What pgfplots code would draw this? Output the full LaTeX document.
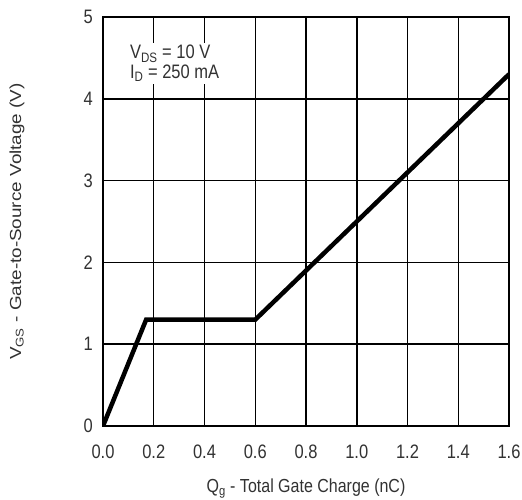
\documentclass[border=0pt]{standalone}
\usepackage{fontspec}
\setmainfont{Liberation Sans}
\usepackage{pgfplots}
\pgfplotsset{compat=1.18}
\definecolor{txt}{RGB}{50,50,50}
\newcommand{\st}[1]{\scalebox{1}[1.18]{#1}}
\begin{document}
\fontsize{16.5}{19}\selectfont
\begin{tikzpicture}
\useasboundingbox (-103pt,-73pt) rectangle (419pt,426pt);
\begin{axis}[
  at={(0pt,0pt)}, anchor=south west,
  scale only axis, width=406pt, height=409pt,
  xmin=0, xmax=1.6, ymin=0, ymax=5,
  xtick={0,0.2,0.4,0.6,0.8,1.0,1.2,1.4,1.6},
  xticklabels={\st{0.0},\st{0.2},\st{0.4},\st{0.6},\st{0.8},\st{1.0},\st{1.2},\st{1.4},\st{1.6}},
  ytick={0,1,2,3,4,5},
  yticklabels={\st{0},\st{1},\st{2},\st{3},\st{4},\st{5}},
  grid=major,
  grid style={black, line width=1.5pt},
  axis line style={black, line width=1.5pt},
  major tick length=0pt,
  tick label style={font=\fontsize{16.5}{19}\selectfont, text=txt},
  xticklabel style={anchor=base, yshift=-32pt},
  yticklabel style={anchor=east, xshift=-4.5pt},
  xlabel={\st{Q\textsubscript{g} - Total Gate Charge (nC)}},
  ylabel={\scalebox{1.18}[1]{V\textsubscript{GS} - Gate-to-Source Voltage (V)}},
  label style={font=\fontsize{16}{19}\selectfont, text=txt},
  xlabel style={at={(axis description cs:0.5,0)}, anchor=base, yshift=-66pt},
  ylabel style={at={(axis description cs:0,0.5)}, anchor=center, yshift=86pt},
]
\addplot[black, line width=4.5pt, line join=miter] coordinates {(0,0) (0.17,1.3) (0.6,1.3) (1.6,4.3)};
\node[anchor=north west, fill=white, align=left, inner xsep=4pt, inner ysep=2pt,
      font=\fontsize{16.5}{19.5}\selectfont, text=txt] at (axis cs:0.09,4.68)
  {\st{V\textsubscript{DS} = 10 V}\\\st{I\textsubscript{D} = 250 mA}};
\end{axis}
\end{tikzpicture}
\end{document}
